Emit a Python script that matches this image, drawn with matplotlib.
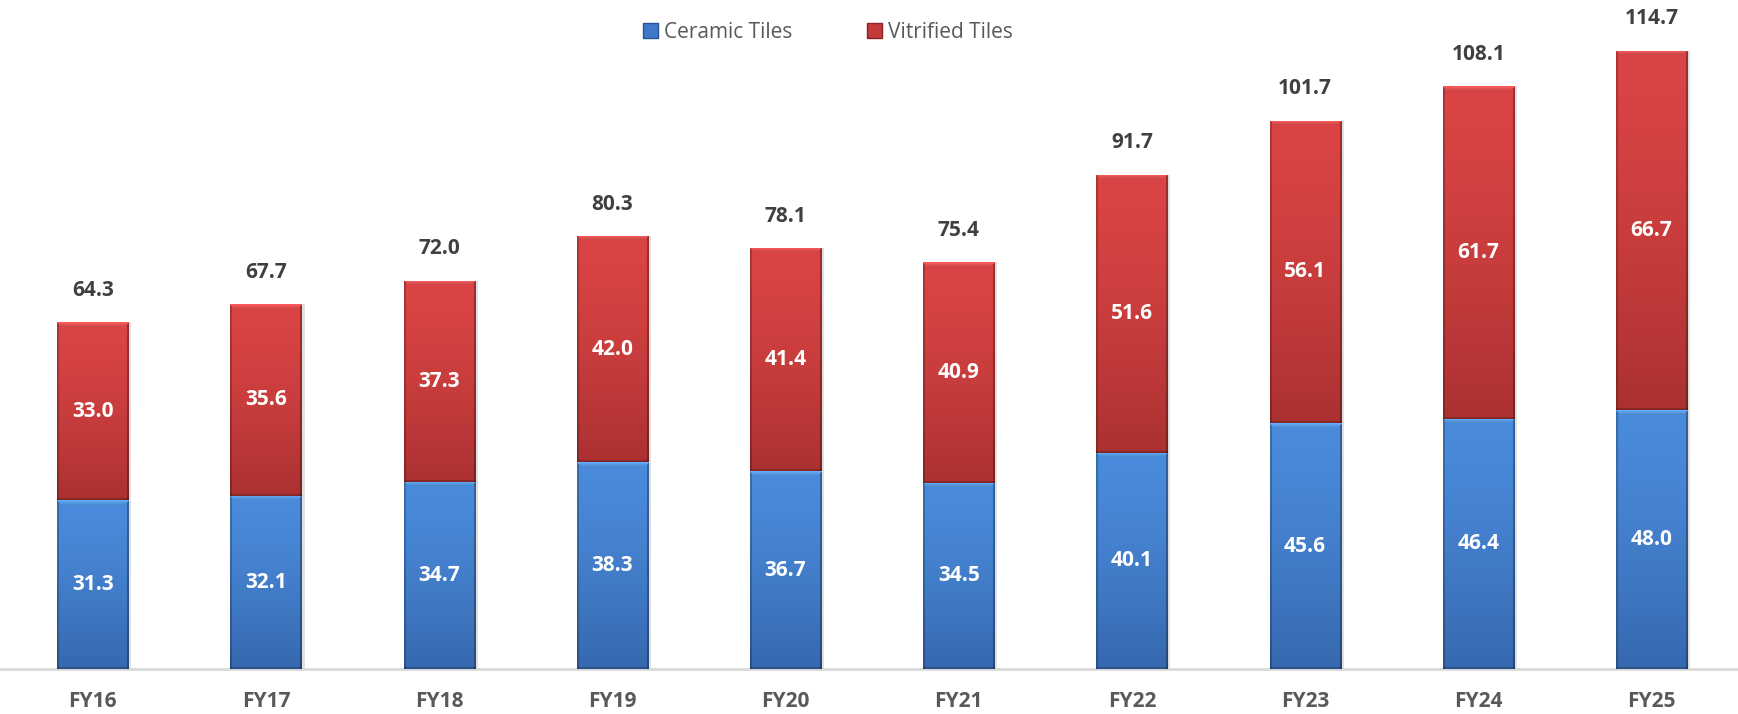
import matplotlib
matplotlib.use("Agg")
import matplotlib.pyplot as plt
import numpy as np
from matplotlib.patches import Patch
from matplotlib.colors import to_rgb

years = ["FY16", "FY17", "FY18", "FY19", "FY20", "FY21", "FY22", "FY23", "FY24", "FY25"]
ceramic = [31.3, 32.1, 34.7, 38.3, 36.7, 34.5, 40.1, 45.6, 46.4, 48.0]
vitrified = [33.0, 35.6, 37.3, 42.0, 41.4, 40.9, 51.6, 56.1, 61.7, 66.7]
totals = [64.3, 67.7, 72.0, 80.3, 78.1, 75.4, 91.7, 101.7, 108.1, 114.7]

plt.rcParams['font.family'] = ['Open Sans', 'DejaVu Sans']

W, H = 1738, 714
fig = plt.figure(figsize=(W / 100, H / 100), dpi=100)
ax = fig.add_axes([0, 45 / H, 1, 669 / H])
YMAX = 124.07
ax.set_xlim(-0.536, 9.5)
ax.set_ylim(0, YMAX)
px_per_unit = 669 / YMAX
px_per_x = W / (9.5 + 0.536)

BW = 0.41
x = np.arange(len(years))

blue_top, blue_bot = to_rgb("#4a8bdb"), to_rgb("#3668ae")
red_top, red_bot = to_rgb("#db4444"), to_rgb("#ab3131")


def seg_image(h_units, ctop, cbot):
    rows = max(int(round(h_units * px_per_unit)), 2)
    cols = int(round(BW * px_per_x))
    t = np.linspace(0, 1, rows)[:, None, None] ** 1.4
    ctop = np.array(ctop)[None, None, :]
    cbot = np.array(cbot)[None, None, :]
    img = ctop * (1 - t) + cbot * t
    img = np.repeat(img, cols, axis=1)
    img[:, :2, :] *= 0.78
    img[:, -2:, :] *= 0.7
    img[-2:, :, :] *= 0.8
    bev = 5
    light = np.minimum(np.array(ctop[0, 0]) * 1.15 + 0.05, 1.0)
    for r in range(min(bev, rows)):
        img[r, r:cols - r, :] = light * (1 - 0.05 * r)
    return np.clip(img, 0, 1)


def draw_stack(bottoms, heights, ctop, cbot):
    bars = ax.bar(x, heights, bottom=bottoms, width=BW, color='none', edgecolor='none', zorder=3)
    for rect in bars:
        x0 = rect.get_x()
        y0 = rect.get_y()
        h = rect.get_height()
        img = seg_image(h, ctop, cbot)
        im = ax.imshow(img, extent=(x0, x0 + BW, y0, y0 + h), aspect='auto',
                       interpolation='bilinear', zorder=3, origin='upper')
        im.set_clip_path(rect)
    return bars


ax.bar(x + 3 / px_per_x, totals, width=BW, color='#000000', alpha=0.12, zorder=2, edgecolor='none')

draw_stack([0] * len(x), ceramic, blue_top, blue_bot)
draw_stack(ceramic, vitrified, red_top, red_bot)
ax.set_xlim(-0.536, 9.5)
ax.set_ylim(0, YMAX)

FS = 15
for i in range(len(x)):
    ax.text(x[i], ceramic[i] / 2, f"{ceramic[i]:.1f}", ha='center', va='center',
            color='white', fontsize=FS, fontweight='bold', zorder=5)
    ax.text(x[i], ceramic[i] + vitrified[i] / 2, f"{vitrified[i]:.1f}", ha='center', va='center',
            color='white', fontsize=FS, fontweight='bold', zorder=5)
    ax.text(x[i], totals[i] + 5.9, f"{totals[i]:.1f}", ha='center', va='center',
            color='#404040', fontsize=FS, fontweight='bold', zorder=5)

for s in ['top', 'right', 'left']:
    ax.spines[s].set_visible(False)
ax.spines['bottom'].set_color('#d9d9d9')
ax.spines['bottom'].set_linewidth(2)
ax.set_yticks([])
ax.set_xticks(x)
ax.set_xticklabels(years, fontsize=FS, fontweight='bold', color='#595959')
ax.tick_params(axis='x', length=0, pad=16)
ax.patch.set_alpha(0)

handles = [Patch(facecolor='#3f78c8', edgecolor='#2a5290', label='Ceramic Tiles'),
           Patch(facecolor='#c43a3a', edgecolor='#8a2424', label='Vitrified Tiles')]
fig.legend(handles=handles, loc='center', bbox_to_anchor=(828 / W, 1 - 32 / H), ncol=2,
           frameon=False, fontsize=15, labelcolor='#595959', handlelength=0.7,
           handleheight=0.7, handletextpad=0.3, columnspacing=3.6)

fig.savefig("out.png", dpi=100)
